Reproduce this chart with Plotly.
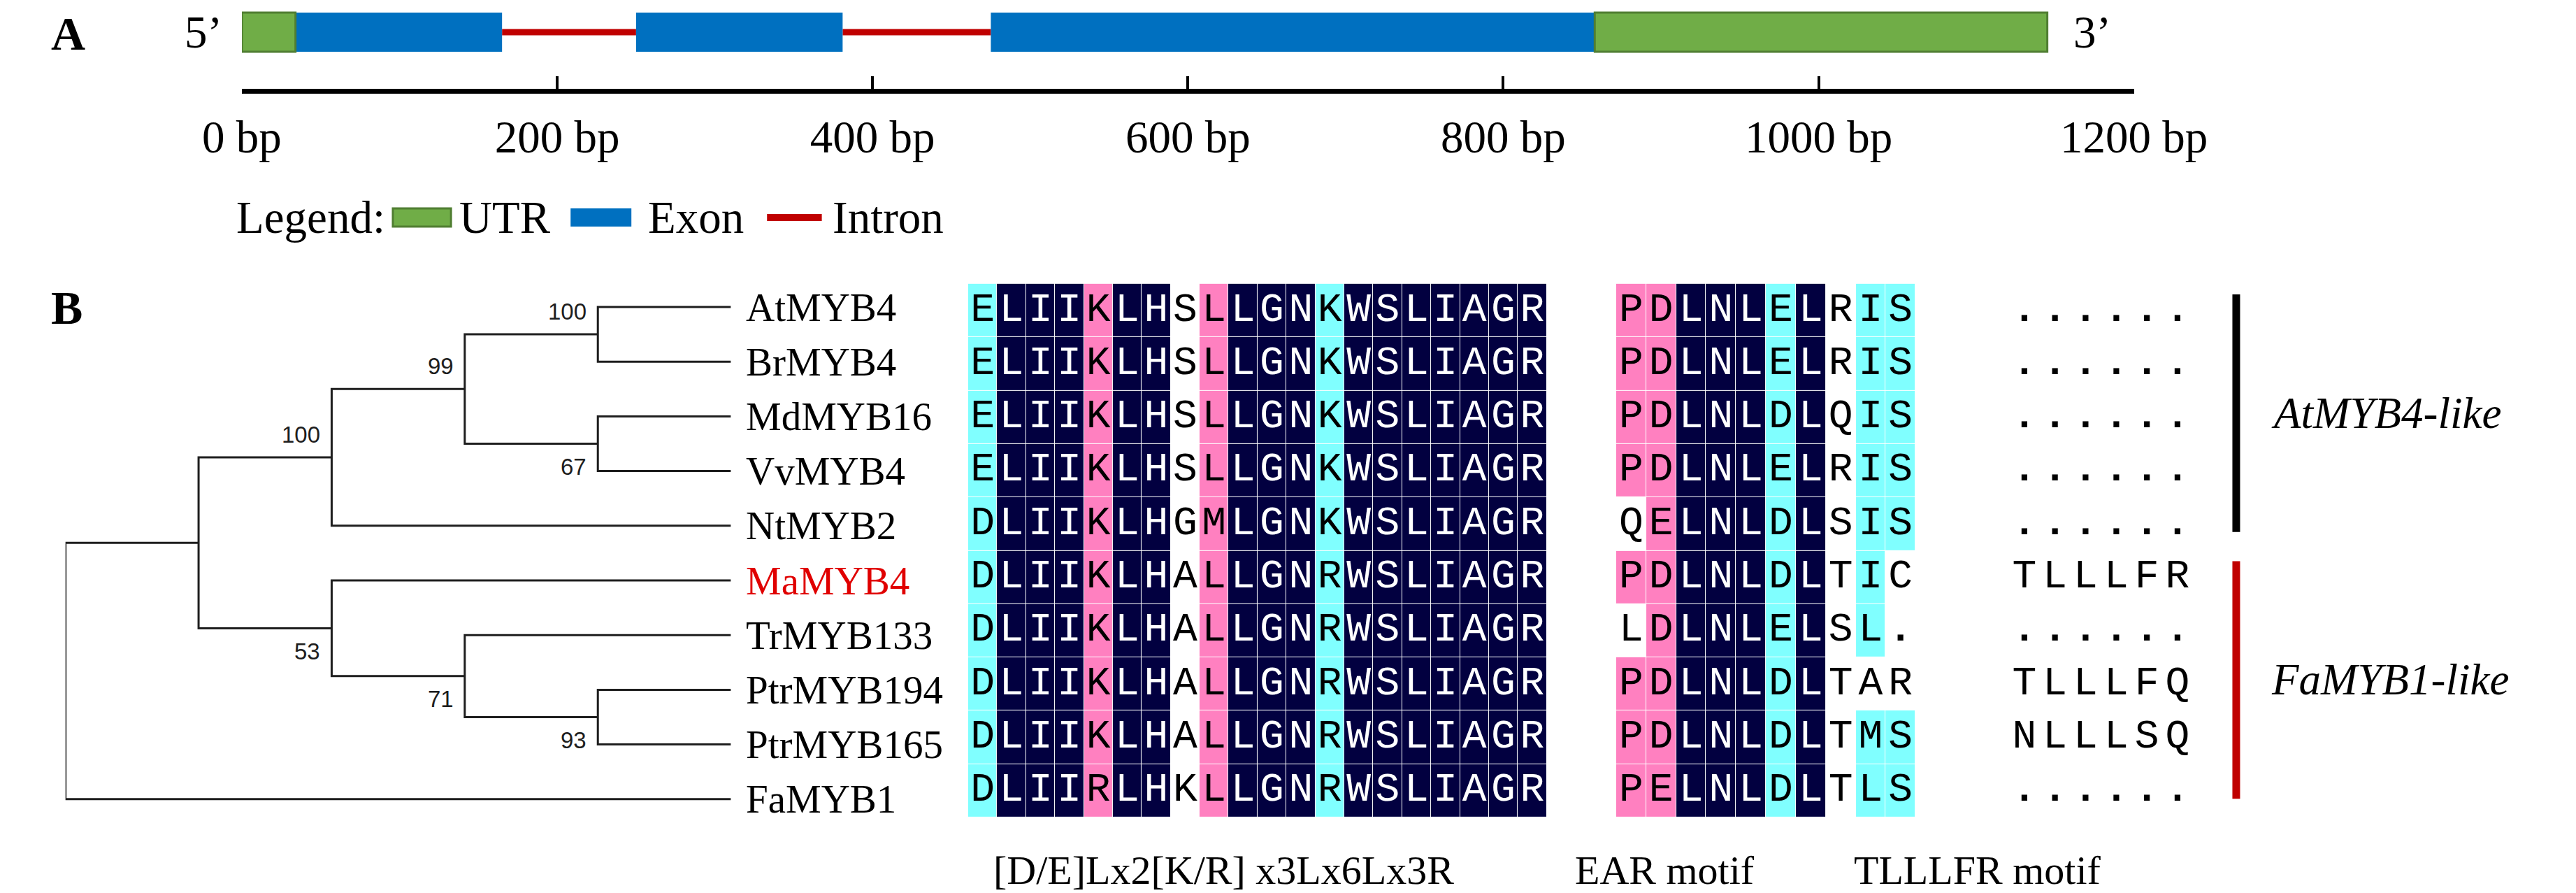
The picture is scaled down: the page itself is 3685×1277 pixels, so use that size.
import plotly.graph_objects as go

W, H = 3685, 1277

# ---- panel A: gene structure (bp) ----
GENE_PARTS = ["UTR", "Exon", "Intron", "Exon", "Intron", "Exon", "UTR"]
GENE_START = [0, 34, 165, 250, 381, 475, 858]
GENE_END = [34, 165, 250, 381, 475, 858, 1145]
BP_TICKS = [0, 200, 400, 600, 800, 1000, 1200]
BP_TICK_TEXT = ["0 bp", "200 bp", "400 bp", "600 bp", "800 bp", "1000 bp", "1200 bp"]
LEGEND_ITEMS = ["UTR", "Exon", "Intron"]

# ---- panel B: tree ----
LEAVES = ["AtMYB4", "BrMYB4", "MdMYB16", "VvMYB4", "NtMYB2",
          "MaMYB4", "TrMYB133", "PtrMYB194", "PtrMYB165", "FaMYB1"]
HIGHLIGHT = "MaMYB4"
LEAF_DEPTH = 5
# name, child a, child b, level, bootstrap, label side (children before parents)
NODES = [
    ("n_atbr", "AtMYB4", "BrMYB4", 4, 100, "above"),
    ("n_mdvv", "MdMYB16", "VvMYB4", 4, 67, "below"),
    ("n99", "n_atbr", "n_mdvv", 3, 99, "above"),
    ("n100", "n99", "NtMYB2", 2, 100, "above"),
    ("n93", "PtrMYB194", "PtrMYB165", 4, 93, "below"),
    ("n71", "TrMYB133", "n93", 3, 71, "below"),
    ("n53", "MaMYB4", "n71", 2, 53, "below"),
    ("n_in", "n100", "n53", 1, None, None),
    ("root", "n_in", "FaMYB1", 0, None, None),
]

# ---- panel B: alignment ----
MOTIF1_SEQ = [
    "ELIIKLHSLLGNKWSLIAGR",
    "ELIIKLHSLLGNKWSLIAGR",
    "ELIIKLHSLLGNKWSLIAGR",
    "ELIIKLHSLLGNKWSLIAGR",
    "DLIIKLHGMLGNKWSLIAGR",
    "DLIIKLHALLGNRWSLIAGR",
    "DLIIKLHALLGNRWSLIAGR",
    "DLIIKLHALLGNRWSLIAGR",
    "DLIIKLHALLGNRWSLIAGR",
    "DLIIRLHKLLGNRWSLIAGR",
]
# W white, C cyan, P pink, N navy
MOTIF1_SHADE = ["CNNNPNNWPNNNCNNNNNNN"] * 10
EAR_SEQ = [
    "PDLNLELRIS",
    "PDLNLELRIS",
    "PDLNLDLQIS",
    "PDLNLELRIS",
    "QELNLDLSIS",
    "PDLNLDLTIC",
    "LDLNLELSL.",
    "PDLNLDLTAR",
    "PDLNLDLTMS",
    "PELNLDLTLS",
]
EAR_SHADE = [
    "PPNNNCNWCC",
    "PPNNNCNWCC",
    "PPNNNCNWCC",
    "PPNNNCNWCC",
    "WPNNNCNWCC",
    "PPNNNCNWCW",
    "WPNNNCNWCW",
    "PPNNNCNWWW",
    "PPNNNCNWCC",
    "PPNNNCNWCC",
]
TLLLFR_SEQ = ["......", "......", "......", "......", "......",
              "TLLLFR", "......", "TLLLFQ", "NLLLSQ", "......"]
MOTIF_CAPTIONS = ["[D/E]Lx2[K/R] x3Lx6Lx3R", "EAR motif", "TLLLFR motif"]
GROUP_NAMES = ["AtMYB4-like", "FaMYB1-like"]
GROUP_FIRST = [0, 5]
GROUP_LAST = [4, 9]

# ---- styles ----
SERIF = "Liberation Serif, Times New Roman, serif"
MONO = "Liberation Mono, Courier New, monospace"
NARROW = "Liberation Sans Narrow, Arial Narrow, Liberation Sans, sans-serif"
PART_COLOR = {"UTR": "#70AD47", "Exon": "#0070C0", "Intron": "#C00000"}
PART_EDGE = {"UTR": "#507E32", "Exon": "#0070C0", "Intron": "#C00000"}
PART_H = {"UTR": 56, "Exon": 56, "Intron": 9}
SHADE_CODE = {"W": 0, "C": 1, "P": 2, "N": 3}
SHADE_SCALE = [[0, "#ffffff"], [0.1667, "#ffffff"], [0.1667, "#80ffff"], [0.5, "#80ffff"],
               [0.5, "#ff80c0"], [0.8333, "#ff80c0"], [0.8333, "#020040"], [1, "#020040"]]
GROUP_COLORS = ["#000000", "#C00000"]

GENE_Y = 38
AXIS_Y = 122
TREE_ROW0, TREE_STEP = 431, 78.2
ALN_ROW0, ALN_STEP = 436, 76.3


def px(x):
    return x / W


fig = go.Figure()

# gene structure bars
for part in ["Intron", "Exon", "UTR"]:
    idx = [i for i, p in enumerate(GENE_PARTS) if p == part]
    fig.add_trace(go.Bar(
        orientation="h", y=[GENE_Y] * len(idx),
        x=[GENE_END[i] - GENE_START[i] for i in idx],
        base=[GENE_START[i] for i in idx], width=PART_H[part],
        marker=dict(color=PART_COLOR[part], line=dict(color=PART_EDGE[part], width=3 if part == "UTR" else 0)),
        xaxis="x", yaxis="y", hoverinfo="skip", showlegend=False))

# tree
ty = {leaf: i for i, leaf in enumerate(LEAVES)}
tx = {leaf: LEAF_DEPTH for leaf in LEAVES}
for name, a, b, lvl, bs, side in NODES:
    ty[name] = (ty[a] + ty[b]) / 2
    tx[name] = lvl
lx, ly = [], []
for name, a, b, lvl, bs, side in NODES:
    lx += [tx[a], lvl, lvl, tx[b], None]
    ly += [ty[a], ty[a], ty[b], ty[b], None]
fig.add_trace(go.Scatter(x=lx, y=ly, mode="lines", line=dict(color="#1e1e1e", width=3),
                         xaxis="x2", yaxis="y2", hoverinfo="skip", showlegend=False))

annotations = []
for i, leaf in enumerate(LEAVES):
    annotations.append(dict(x=LEAF_DEPTH, y=i, xref="x2", yref="y2", text=leaf, showarrow=False,
                            xanchor="left", xshift=19,
                            font=dict(family=SERIF, size=57, color="#e00000" if leaf == HIGHLIGHT else "black")))
for name, a, b, lvl, bs, side in NODES:
    if bs is None:
        continue
    annotations.append(dict(x=lvl, y=ty[name], xref="x2", yref="y2", text=str(bs), showarrow=False,
                            xanchor="right", xshift=-14, yshift=33 if side == "above" else -33,
                            font=dict(family=NARROW, size=33, color="#1e1e1e")))

# alignment blocks
for seqs, shades, xa in [(MOTIF1_SEQ, MOTIF1_SHADE, "x3"), (EAR_SEQ, EAR_SHADE, "x4")]:
    ncol = len(seqs[0])
    fig.add_trace(go.Heatmap(
        z=[[SHADE_CODE[c] for c in row] for row in shades],
        x=list(range(ncol)), y=list(range(len(seqs))),
        colorscale=SHADE_SCALE, zmin=0, zmax=3, showscale=False, xgap=1, ygap=1,
        xaxis=xa, yaxis="y3", hoverinfo="skip"))


def add_text(seqs, shades, xa):
    groups = {"white": ([], [], []), "black": ([], [], []), "dot": ([], [], [])}
    for r, row in enumerate(seqs):
        for c, ch in enumerate(row):
            if ch == ".":
                key = "dot"
            elif shades is not None and shades[r][c] == "N":
                key = "white"
            else:
                key = "black"
            groups[key][0].append(c)
            groups[key][1].append(r)
            groups[key][2].append(ch)
    for key, (xs, ys, ts) in groups.items():
        if not xs:
            continue
        fig.add_trace(go.Scatter(
            x=xs, y=ys, text=ts, mode="text", textposition="middle center",
            textfont=dict(family=MONO, size=58, color="white" if key == "white" else "black",
                          weight="bold" if key == "dot" else "normal"),
            xaxis=xa, yaxis="y3", hoverinfo="skip", showlegend=False, cliponaxis=False))


add_text(MOTIF1_SEQ, MOTIF1_SHADE, "x3")
add_text(EAR_SEQ, EAR_SHADE, "x4")
add_text(TLLLFR_SEQ, None, "x5")

# group brackets
shapes = []
for name, first, last, col in zip(GROUP_NAMES, GROUP_FIRST, GROUP_LAST, GROUP_COLORS):
    y0, y1 = first - 0.3, last + 0.15
    shapes.append(dict(type="line", xref="paper", yref="y3", x0=px(3279), x1=px(3279), y0=y0, y1=y1,
                       line=dict(color=col, width=11)))
    annotations.append(dict(x=px(3329), y=(y0 + y1) / 2, xref="paper", yref="y3", text=f"<i>{name}</i>",
                            showarrow=False, xanchor="left", font=dict(family=SERIF, size=63, color="black")))

# motif captions
for text, cx in zip(MOTIF_CAPTIONS, [1764, 2560, 3079]):
    annotations.append(dict(x=px(cx), y=1236, xref="paper", yref="y", text=text, showarrow=False,
                            font=dict(family=SERIF, size=58, color="black")))

# panel A legend and end labels
LEG_Y = 303
shapes.append(dict(type="rect", xref="paper", yref="y", x0=px(520), x1=px(607), y0=LEG_Y - 13, y1=LEG_Y + 13,
                   fillcolor=PART_COLOR["UTR"], line=dict(color=PART_EDGE["UTR"], width=3)))
shapes.append(dict(type="rect", xref="paper", yref="y", x0=px(786), x1=px(877), y0=LEG_Y - 13, y1=LEG_Y + 13,
                   fillcolor=PART_COLOR["Exon"], line=dict(width=0)))
shapes.append(dict(type="line", xref="paper", yref="y", x0=px(1080), x1=px(1162), y0=LEG_Y, y1=LEG_Y,
                   line=dict(color=PART_COLOR["Intron"], width=10)))
for text, x0 in zip(["Legend:"] + LEGEND_ITEMS, [284, 617, 900, 1176]):
    annotations.append(dict(x=px(x0), y=LEG_Y, xref="paper", yref="y", text=text, showarrow=False,
                            xanchor="left", font=dict(family=SERIF, size=65, color="black")))
annotations.append(dict(x=GENE_START[0], y=GENE_Y, xref="x", yref="y", text="5\u2019", showarrow=False,
                        xanchor="right", xshift=-26, font=dict(family=SERIF, size=65, color="black")))
annotations.append(dict(x=GENE_END[-1], y=GENE_Y, xref="x", yref="y", text="3\u2019", showarrow=False,
                        xanchor="left", xshift=35, font=dict(family=SERIF, size=65, color="black")))
for lab, y in [("A", 0), ("B", 392)]:
    annotations.append(dict(x=px(6), y=y, xref="paper", yref="y", text=f"<b>{lab}</b>", showarrow=False,
                            xanchor="left", yanchor="top", font=dict(family=SERIF, size=68, color="black")))

hidden = dict(visible=False, showgrid=False, zeroline=False)
fig.update_layout(
    width=W, height=H, margin=dict(l=0, r=0, t=0, b=0),
    paper_bgcolor="white", plot_bgcolor="rgba(0,0,0,0)", showlegend=False, barmode="overlay",
    xaxis=dict(domain=[px(294), px(3126)], range=[0, 1200], anchor="free", position=1 - AXIS_Y / H,
               showline=True, linewidth=7, linecolor="black", ticks="inside", ticklen=18, tickwidth=4,
               tickcolor="black", tickvals=BP_TICKS, ticktext=BP_TICK_TEXT, ticklabelstandoff=6,
               tickfont=dict(family=SERIF, size=65, color="black"), showgrid=False, zeroline=False),
    yaxis=dict(domain=[0, 1], range=[H, 0], anchor="free", position=0, **hidden),
    xaxis2=dict(domain=[px(30), px(1026)], range=[0, LEAF_DEPTH], anchor="y2", **hidden),
    yaxis2=dict(domain=[0, 1], range=[(H - TREE_ROW0) / TREE_STEP, -TREE_ROW0 / TREE_STEP],
                anchor="x2", **hidden),
    xaxis3=dict(domain=[px(1381), px(2247)], range=[-0.5, 19.5], anchor="y3", **hidden),
    yaxis3=dict(domain=[0, 1], range=[(H - ALN_ROW0) / ALN_STEP, -ALN_ROW0 / ALN_STEP],
                anchor="x3", **hidden),
    xaxis4=dict(domain=[px(2351), px(2799)], range=[-0.5, 9.5], anchor="y3", **hidden),
    xaxis5=dict(domain=[px(2939), px(3214)], range=[-0.5, 5.5], anchor="y3", **hidden),
    shapes=shapes, annotations=annotations,
)

fig.write_html("out.html")
